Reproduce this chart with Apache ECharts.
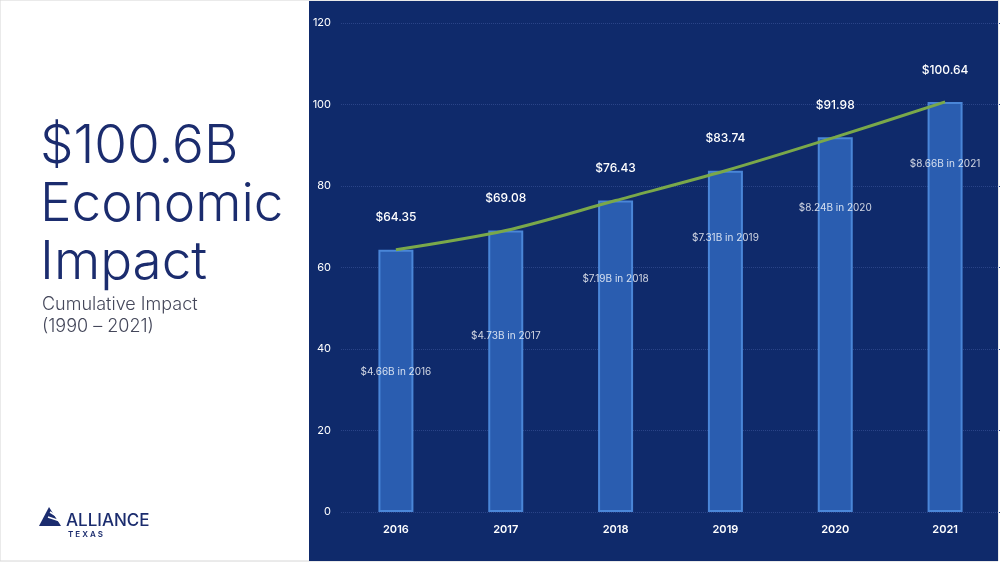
<!DOCTYPE html>
<html><head><meta charset="utf-8">
<script src="https://cdn.jsdelivr.net/npm/echarts@6/dist/echarts.min.js"></script>
<style>html,body{margin:0;padding:0;background:#fff}#c{width:1000px;height:563px}</style>
</head><body><div id="c"></div>
<script>
const years = ['2016','2017','2018','2019','2020','2021'];
const cumulative = [64.35, 69.08, 76.43, 83.74, 91.98, 100.64];
const annualLabels = ['$4.66B in 2016','$4.73B in 2017','$7.19B in 2018','$7.31B in 2019','$8.24B in 2020','$8.66B in 2021'];
const annualLabelY = [34.4, 43.2, 57.2, 67.3, 74.6, 85.4];
const yTicks = {min:0, max:120, interval:20};

const chart = echarts.init(document.getElementById('c'));
chart.setOption({
  backgroundColor:'#fff',
  graphic:[
    {type:'rect', shape:{x:0,y:0,width:998,height:561}, style:{fill:'#fff',stroke:'#d6d6d6',lineWidth:1}, z:-10},
    {type:'rect', shape:{x:309,y:1,width:689,height:560}, style:{fill:'#0f2a6b'}, z:-9},
    {type:'text', left:40, top:118, style:{text:'$100.6B\nEconomic\nImpact', font:'300 53px Inter, "Open Sans", sans-serif', fill:'#1b2c6e', lineHeight:58}},
    {type:'text', left:42, top:294, style:{text:'Cumulative Impact\n(1990 – 2021)', font:'300 18px Inter, "Open Sans", sans-serif', fill:'#44475a', lineHeight:22}},
    {type:'polygon', shape:{points:[[49,507],[39,526],[61,526]]}, style:{fill:'#1b2c6e'}},
    {type:'polyline', shape:{points:[[50,512],[58,517]]}, style:{stroke:'#fff',lineWidth:1.5}},
    {type:'polyline', shape:{points:[[48,517],[60,521]]}, style:{stroke:'#fff',lineWidth:1.5}},
    {type:'text', left:66, top:512, style:{text:'ALLIANCE', font:'500 17px Inter, "Open Sans", sans-serif', fill:'#1b2c6e'}},
    {type:'text', left:68, top:531, style:{text:'T E X A S', font:'600 8px Inter, sans-serif', fill:'#1b2c6e'}}
  ],
  grid:{left:341, right:0, top:23, bottom:51},
  xAxis:{type:'category', data:years, axisLine:{show:false}, axisTick:{show:false},
    axisLabel:{color:'#fff', fontSize:11, fontWeight:600, fontFamily:'Inter', margin:12}},
  yAxis:{type:'value', min:yTicks.min, max:yTicks.max, interval:yTicks.interval,
    axisLabel:{color:'#fff', fontSize:11, fontFamily:'Inter', margin:10},
    splitLine:{lineStyle:{color:'#2a4488', type:'dotted'}}},
  series:[
    {type:'bar', data:cumulative, barWidth:35,
      itemStyle:{color:'#2a5db0', borderColor:'#4a86d8', borderWidth:2},
      label:{show:true, position:'top', distance:26, color:'#fff', fontSize:12, fontWeight:500, fontFamily:'Inter', formatter:p=>'$'+p.value.toFixed(2)}},
    {type:'line', data:cumulative, smooth:0.3, symbol:'none', lineStyle:{color:'#7aa84a', width:3}, z:5},
    {type:'scatter', data:annualLabelY, symbolSize:0, z:6,
      label:{show:true, position:'inside', color:'#fff', fontSize:10, fontFamily:'Inter', formatter:p=>annualLabels[p.dataIndex]}}
  ]
});
</script></body></html>
